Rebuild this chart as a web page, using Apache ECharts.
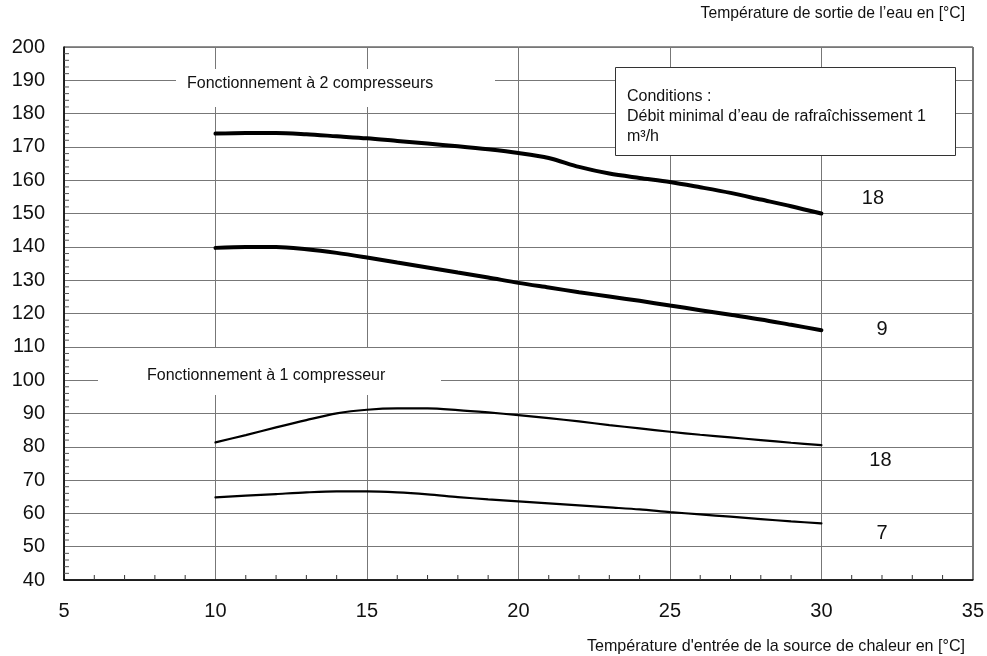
<!DOCTYPE html>
<html>
<head>
<meta charset="utf-8">
<script src="https://cdn.jsdelivr.net/npm/echarts@6/dist/echarts.min.js"></script>
<style>
html,body{margin:0;padding:0;background:#fff;}
#chart{width:987px;height:656px;}
</style>
</head>
<body>
<div id="chart"></div>
<script>
// ---- data ----
const sourceTemps = [10,11,12,13,14,15,16,17,18,19,20,21,22,23,24,25,26,27,28,29,30];
const twoComp18 = [174,174.2,174.2,173.8,173.2,172.6,171.8,171,170.2,169.3,168.2,166.7,164,162,160.7,159.5,157.9,156.2,154.2,152.2,150];
const twoComp9  = [139.7,140,140,139.3,138.2,136.8,135.3,133.8,132.3,130.8,129.2,127.8,126.4,125.1,123.8,122.4,121,119.6,118.2,116.6,115];
const oneComp18 = [81.3,83.5,85.8,88,90,91.1,91.5,91.5,91,90.3,89.5,88.6,87.6,86.5,85.5,84.5,83.6,82.8,82,81.2,80.5];
const oneComp7  = [64.8,65.3,65.8,66.3,66.6,66.6,66.3,65.7,64.9,64.2,63.6,63,62.4,61.8,61.2,60.4,59.7,59,58.3,57.6,57];
const curveNames = ['18','9','18','7'];
const xTicks = [5,10,15,20,25,30,35];
const yTicks = [40,50,60,70,80,90,100,110,120,130,140,150,160,170,180,190,200];

const FONT = '"Liberation Sans", Arial, sans-serif';
function pairs(ys){ return sourceTemps.map((x,i)=>[x, ys[i]]); }

const chart = echarts.init(document.getElementById('chart'), null, {renderer:'canvas'});

function lineSeries(name, ys, w){
  return {
    name, type:'line', data: pairs(ys), smooth:0.3, symbol:'none',
    lineStyle:{color:'#000', width:w, cap:'round'}, z:3
  };
}

chart.setOption({
  animation:false,
  textStyle:{fontFamily:FONT},
  grid:{left:64, right:14, top:47, bottom:76, show:true, borderColor:'#222', borderWidth:1, backgroundColor:'transparent'},
  xAxis:{
    type:'value', min:xTicks[0], max:xTicks[xTicks.length-1], interval:5,
    axisLine:{show:true, onZero:false, lineStyle:{color:'#000', width:1.5}},
    axisTick:{show:false},
    axisLabel:{fontSize:20, color:'#111', margin:21, fontFamily:FONT},
    splitLine:{show:true, lineStyle:{color:'#777', width:1}}
  },
  yAxis:{
    type:'value', min:yTicks[0], max:yTicks[yTicks.length-1], interval:10,
    axisLine:{show:true, onZero:false, lineStyle:{color:'#000', width:1.5}},
    axisTick:{show:false},
    axisLabel:{fontSize:20, color:'#111', margin:19, fontFamily:FONT},
    splitLine:{show:true, lineStyle:{color:'#777', width:1}}
  },
  series:[
    lineSeries('2c18', twoComp18, 4),
    lineSeries('2c9', twoComp9, 4),
    lineSeries('1c18', oneComp18, 2.2),
    lineSeries('1c7', oneComp7, 2.2)
  ]
});

const g = [];
// inward minor ticks
for (let v = yTicks[0]; v <= yTicks[yTicks.length-1]; v += 2) {
  if (v % 10 === 0) continue;
  const p = chart.convertToPixel({gridIndex:0}, [5, v]);
  g.push({type:'line', shape:{x1:p[0], y1:p[1], x2:p[0]+5, y2:p[1]}, style:{stroke:'#555', lineWidth:1}, z:50, silent:true});
}
for (let v = xTicks[0]; v <= xTicks[xTicks.length-1]; v += 1) {
  if (v % 5 === 0) continue;
  const p = chart.convertToPixel({gridIndex:0}, [v, 40]);
  g.push({type:'line', shape:{x1:p[0], y1:p[1], x2:p[0], y2:p[1]-5}, style:{stroke:'#333', lineWidth:1}, z:50, silent:true});
}

// annotation boxes
const TXT = '16px ' + FONT;
g.push({type:'rect', shape:{x:176, y:69, width:319, height:38}, style:{fill:'#fff'}, z:40, silent:true});
g.push({type:'text', x:187, y:84, style:{text:'Fonctionnement à 2 compresseurs', font:TXT, fill:'#111', textVerticalAlign:'middle'}, z:41});
g.push({type:'rect', shape:{x:98, y:348, width:343, height:47}, style:{fill:'#fff'}, z:40, silent:true});
g.push({type:'text', x:147, y:376, style:{text:'Fonctionnement à 1 compresseur', font:TXT, fill:'#111', textVerticalAlign:'middle'}, z:41});
g.push({type:'rect', shape:{x:615.5, y:67.5, width:340, height:88}, style:{fill:'#fff', stroke:'#333', lineWidth:1}, z:40, silent:true});
g.push({type:'text', x:627, y:97, style:{text:'Conditions :', font:TXT, fill:'#111', textVerticalAlign:'middle'}, z:41});
g.push({type:'text', x:627, y:117, style:{text:'Débit minimal d’eau de rafraîchissement 1', font:TXT, fill:'#111', textVerticalAlign:'middle'}, z:41});
g.push({type:'text', x:627, y:137, style:{text:'m³/h', font:TXT, fill:'#111', textVerticalAlign:'middle'}, z:41});

// curve labels
const labelPos = [[31.7,154.6],[32.0,115.3],[31.95,75.8],[32.0,54]];
labelPos.forEach((lp,i)=>{
  const p = chart.convertToPixel({gridIndex:0}, lp);
  g.push({type:'text', x:p[0], y:p[1], style:{text:curveNames[i], font:'20px '+FONT, fill:'#111', textAlign:'center', textVerticalAlign:'middle'}, z:41});
});

// axis names
g.push({type:'text', x:965, y:14, style:{text:'Température de sortie de l’eau en [°C]', font:'15.7px '+FONT, fill:'#111', textAlign:'right', textVerticalAlign:'middle'}, z:41});
g.push({type:'text', x:965, y:647, style:{text:'Température d\'entrée de la source de chaleur en [°C]', font:'16.1px '+FONT, fill:'#111', textAlign:'right', textVerticalAlign:'middle'}, z:41});

chart.setOption({ graphic:{elements:g} });
</script>
</body>
</html>
